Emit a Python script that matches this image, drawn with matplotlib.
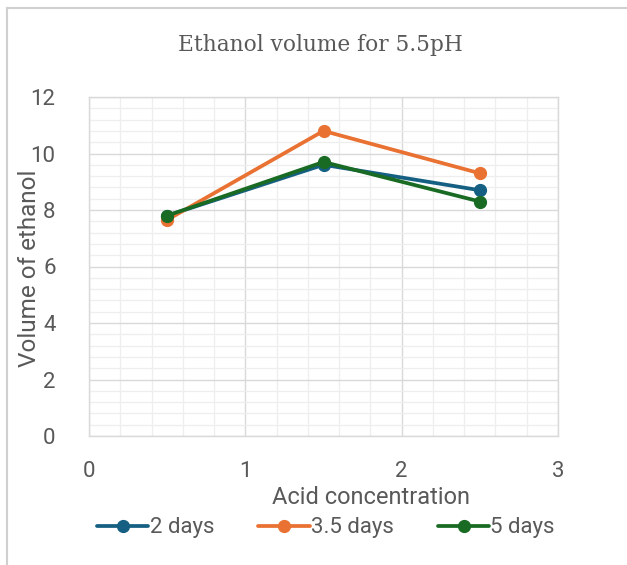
import matplotlib
matplotlib.use("Agg")
import matplotlib.pyplot as plt
from matplotlib.lines import Line2D
from matplotlib.ticker import MultipleLocator

# Acid concentration levels and ethanol volume per fermentation time
acid_conc = [0.5, 1.5, 2.5]
vol_2_days = [7.8, 9.6, 8.7]
vol_3_5_days = [7.65, 10.8, 9.3]
vol_5_days = [7.8, 9.7, 8.3]
series_names = ["2 days", "3.5 days", "5 days"]
series_colors = ["#156082", "#E97132", "#196B24"]

title = "Ethanol volume for 5.5pH"
x_label = "Acid concentration"
y_label = "Volume of ethanol"

text_gray = "#595959"
W, H = 627, 565
fig = plt.figure(figsize=(W / 100, H / 100), dpi=100)
ax = fig.add_axes([89 / W, 1 - 436 / H, (558 - 89) / W, (436 - 97) / H])

for vals, name, col in zip([vol_2_days, vol_3_5_days, vol_5_days], series_names, series_colors):
    ax.plot(acid_conc, vals, color=col, lw=2.7, marker="o", ms=8.5, label=name,
            solid_capstyle="round", zorder=3)

ax.set_xlim(0, 3)
ax.set_ylim(0, 12)
ax.xaxis.set_major_locator(MultipleLocator(1))
ax.xaxis.set_minor_locator(MultipleLocator(0.2))
ax.yaxis.set_major_locator(MultipleLocator(2))
ax.yaxis.set_minor_locator(MultipleLocator(0.4))
ax.grid(which="major", color="#d9d9d9", lw=1.0, zorder=0)
ax.grid(which="minor", color="#eeeeee", lw=0.9, zorder=0)
ax.set_axisbelow(True)
for s in ax.spines.values():
    s.set_color("#d9d9d9")
    s.set_linewidth(1.0)
ax.tick_params(which="both", length=0)
ax.tick_params(axis="y", pad=24, labelsize=16, labelcolor=text_gray)
ax.tick_params(axis="x", pad=18, labelsize=16, labelcolor=text_gray)
for lab in ax.get_xticklabels() + ax.get_yticklabels():
    lab.set_fontfamily("Roboto")

fig.text(320 / W, 1 - 45 / H, title, ha="center", va="center",
         fontsize=15.6, color=text_gray, family="DejaVu Serif")
fig.text(371 / W, 1 - 497 / H, x_label, ha="center", va="center",
         fontsize=17, color=text_gray, family="Roboto")
fig.text(30 / W, 1 - 268 / H, y_label, ha="center", va="center", rotation=90,
         fontsize=17.5, color=text_gray, family="Roboto")

leg = fig.legend(loc="center", bbox_to_anchor=(326 / W, 1 - 528 / H), ncol=3,
                 frameon=False, handlelength=2.3, handletextpad=0.05,
                 columnspacing=2.0, prop={"family": "Roboto", "size": 16})
for t in leg.get_texts():
    t.set_color(text_gray)

# light frame around the chart area
fig.add_artist(Line2D([6.5 / W, 6.5 / W], [0, 1 - 8 / H], transform=fig.transFigure,
                      color="#d0d0d0", lw=1.5))
fig.add_artist(Line2D([6.5 / W, 1], [1 - 8 / H, 1 - 8 / H], transform=fig.transFigure,
                      color="#d0d0d0", lw=1.5))

fig.savefig("out.png", dpi=100)
